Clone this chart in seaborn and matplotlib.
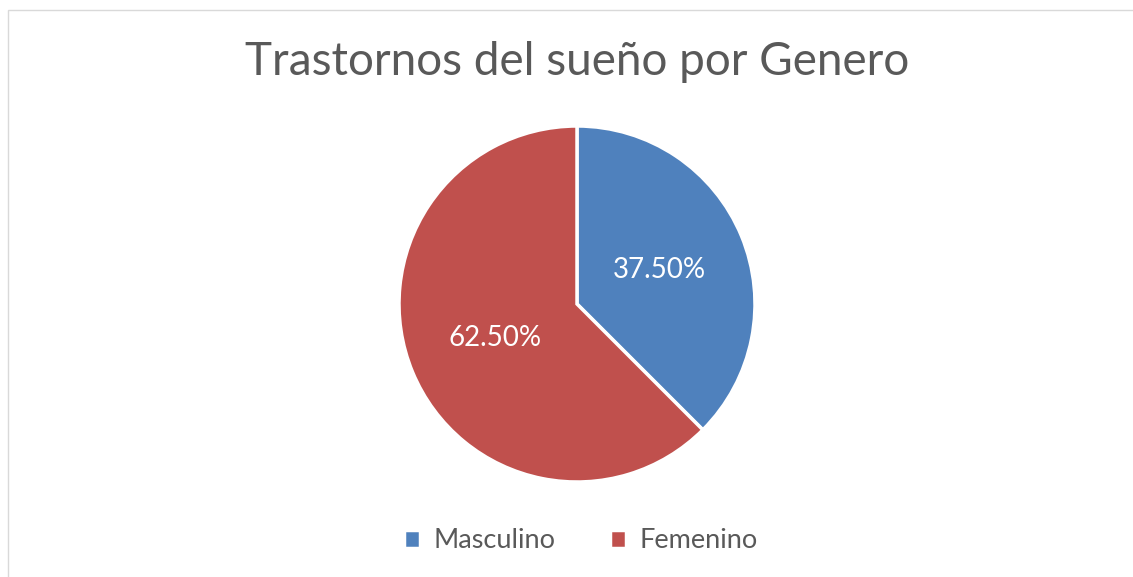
import matplotlib
matplotlib.use("Agg")
import matplotlib.pyplot as plt
import seaborn as sns
from matplotlib.patches import Rectangle

# datos
generos = ['Masculino', 'Femenino']
porcentajes = [37.5, 62.5]
colores = ['#4F81BD', '#C0504D']

sns.set_theme(style="white")
plt.rcParams['font.family'] = ['Lato', 'DejaVu Sans']

W, H = 1133, 577
fig = plt.figure(figsize=(W / 100, H / 100), dpi=100)

# borde del gráfico
fig.patches.append(Rectangle((8 / W, -0.1), 1.2, (H - 10) / H + 0.1,
                             transform=fig.transFigure, fill=False,
                             edgecolor='#D9D9D9', linewidth=1))

cx, cy, r = 577, 304, 178
ax = fig.add_axes([(cx - r) / W, (H - cy - r) / H, 2 * r / W, 2 * r / H])
wedges, texts, autotexts = ax.pie(
    porcentajes, colors=sns.color_palette(colores), startangle=90,
    counterclock=False, radius=1, autopct='%.2f%%', pctdistance=0.5,
    wedgeprops=dict(edgecolor='white', linewidth=2.5),
    textprops=dict(color='white', fontsize=20))
ax.set_xlim(-1.0, 1.0)
ax.set_ylim(-1.0, 1.0)
ax.set_aspect('equal')
ax.axis('off')

fig.text(cx / W, 1 - 62 / H, 'Trastornos del sueño por Genero',
         ha='center', va='center', fontsize=33, color='#595959')

fig.legend(wedges, generos, loc='center', bbox_to_anchor=(581 / W, 1 - 541 / H),
           ncol=2, frameon=False, fontsize=19.5, labelcolor='#595959',
           handlelength=0.6, handleheight=0.6, handletextpad=0.5,
           columnspacing=2.0)

plt.savefig('out.png', dpi=100)
